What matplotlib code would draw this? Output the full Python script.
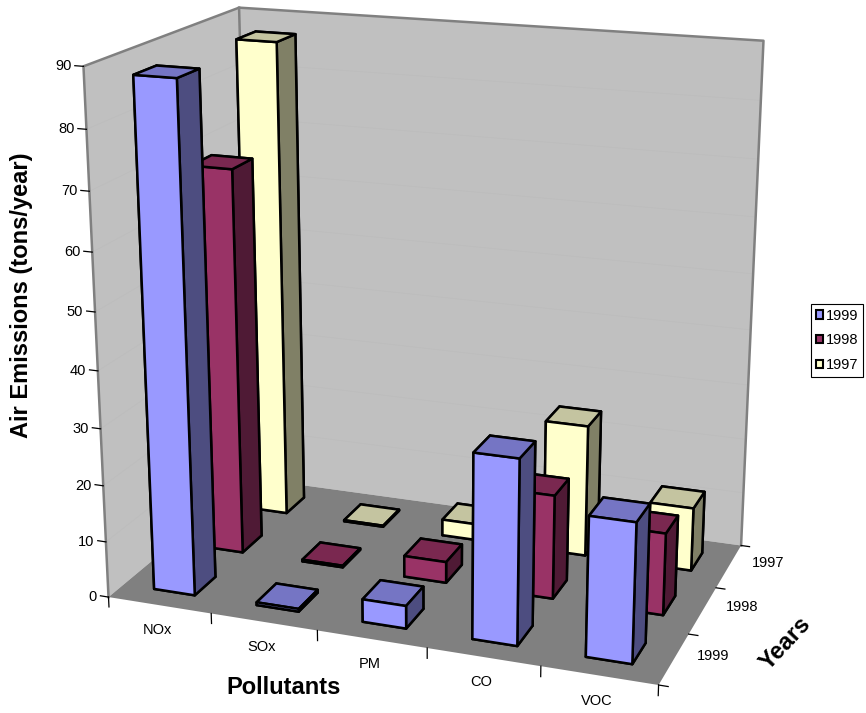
import matplotlib
matplotlib.use("Agg")
import matplotlib.pyplot as plt
from matplotlib.patches import Patch
from mpl_toolkits.mplot3d import proj3d
from mpl_toolkits.mplot3d.art3d import Poly3DCollection

plt.rcParams['font.family'] = ['Liberation Sans', 'DejaVu Sans']

pollutants = ['NOx', 'SOx', 'PM', 'CO', 'VOC']
years = ['1999', '1998', '1997']
emis_1999 = [88, 0.5, 4, 32, 24]
emis_1998 = [69, 0.3, 3.8, 18.5, 14.5]
emis_1997 = [87, 0.2, 3, 24, 11.5]
z_ticks = [0, 10, 20, 30, 40, 50, 60, 70, 80, 90]

# bottom, top, front, back, left, right
colors_1999 = ['#4f4f8f', '#7575c4', '#9999ff', '#9999ff', '#9999ff', '#4d4d80']
colors_1998 = ['#4c1933', '#7a2850', '#993366', '#993366', '#993366', '#4f1a35']
colors_1997 = ['#808066', '#c4c4a0', '#ffffcc', '#ffffcc', '#ffffcc', '#808066']

W, H = 866, 713
S = 835
fig = plt.figure(figsize=(W / 100, H / 100), dpi=100)
ax = fig.add_axes([4.5 / W, -37 / H, S / W, S / H], projection='3d')
ax.set_proj_type('persp', focal_length=0.5)
ax.set_box_aspect((558, 340, 530))
ax.view_init(elev=17.5, azim=-70)
ax.set_xlim(0, 5)
ax.set_ylim(0, 3)
ax.set_zlim(0, 90)
ax.set_axis_off()
ax.computed_zorder = False
ax.patch.set_alpha(0)

xm, ym, zm = 5, 3, 90
wall_grey = '#c0c0c0'
edge_grey = '#808080'


def label(x, y, z, s, dx, dy, **kw):
    # 2D text anchored on a 3D point, offset in pixels
    px, py, _ = proj3d.proj_transform(x, y, z, ax.get_proj())
    ax.annotate(s, (px, py), xytext=(dx, dy), textcoords='offset pixels', zorder=5, annotation_clip=False, **kw)


# walls and floor
left_wall = [[(0, 0, 0), (0, ym, 0), (0, ym, zm), (0, 0, zm)]]
back_wall = [[(0, ym, 0), (xm, ym, 0), (xm, ym, zm), (0, ym, zm)]]
floor = [[(0, 0, 0), (xm, 0, 0), (xm, ym, 0), (0, ym, 0)]]
for poly, col in ((left_wall, wall_grey), (back_wall, wall_grey), (floor, edge_grey)):
    ax.add_collection3d(Poly3DCollection(poly, facecolors=col, edgecolors='none', zorder=1))

for z in z_ticks[1:-1]:
    ax.plot([0, 0, xm], [0, ym, ym], [z, z, z], color='#bcbcbc', lw=0.5, zorder=2)
# frame of the walls
ax.plot([0, 0, 0, xm, xm], [0, 0, ym, ym, ym], [0, zm, zm, zm, 0], color=edge_grey, lw=1.8, zorder=2)
ax.plot([0, 0], [ym, ym], [0, zm], color=edge_grey, lw=1.8, zorder=2)

# ticks
for z in z_ticks:
    ax.plot([0, -0.08], [0, 0], [z, z], color='black', lw=0.9, zorder=2)
    label(0, 0, z, str(z), -12, 0, ha='right', va='center', fontsize=10.5)
for i in range(6):
    ax.plot([i, i], [0, 0], [0, -1.8], color='black', lw=0.9, zorder=2)
for i in range(4):
    ax.plot([xm, xm + 0.08], [i, i], [0, 0], color='black', lw=0.9, zorder=2)
for i, name in enumerate(pollutants):
    label(i + 0.5, 0, 0, name, -2, -25, ha='center', va='center', fontsize=10.5)
for i, name in enumerate(years):
    label(xm, i + 0.5, 0, name, 39, 3, ha='center', va='center', fontsize=10.5)

# bars, back row first, left to right
bar_w = 0.40
bar_d = 0.42
rows = [(2, emis_1997, colors_1997), (1, emis_1998, colors_1998), (0, emis_1999, colors_1999)]
order = 10
for row, vals, cols in rows:
    for i, v in enumerate(vals):
        ax.bar3d(i + 0.5 - bar_w / 2, row + 0.5 - bar_d / 2, 0, bar_w, bar_d, v,
                 color=cols, shade=False, edgecolor='black', linewidth=1.8, zorder=order)
        order += 1

fig.text(22 / W, 1 - 295 / H, 'Air Emissions (tons/year)', rotation=90, ha='center', va='center',
         fontsize=17, fontweight='bold')
fig.text(284 / W, 1 - 688 / H, 'Pollutants', ha='center', va='center', fontsize=17, fontweight='bold')
fig.text(785 / W, 1 - 643 / H, 'Years', rotation=47, ha='center', va='center', fontsize=17, fontweight='bold')

handles = [Patch(facecolor='#9999ff', edgecolor='black', label='1999'),
           Patch(facecolor='#993366', edgecolor='black', label='1998'),
           Patch(facecolor='#ffffcc', edgecolor='black', label='1997')]
leg = fig.legend(handles=handles, loc='center', bbox_to_anchor=(837 / W, 1 - 340.5 / H), fontsize=10.5,
                 frameon=True, fancybox=False, edgecolor='black', framealpha=1, handlelength=0.5,
                 handleheight=0.5, handletextpad=0.2, labelspacing=0.75, borderpad=0.3, borderaxespad=0)
leg.get_frame().set_linewidth(0.8)
for p in leg.get_patches():
    p.set_linewidth(1.5)

fig.savefig('out.png', dpi=100)
